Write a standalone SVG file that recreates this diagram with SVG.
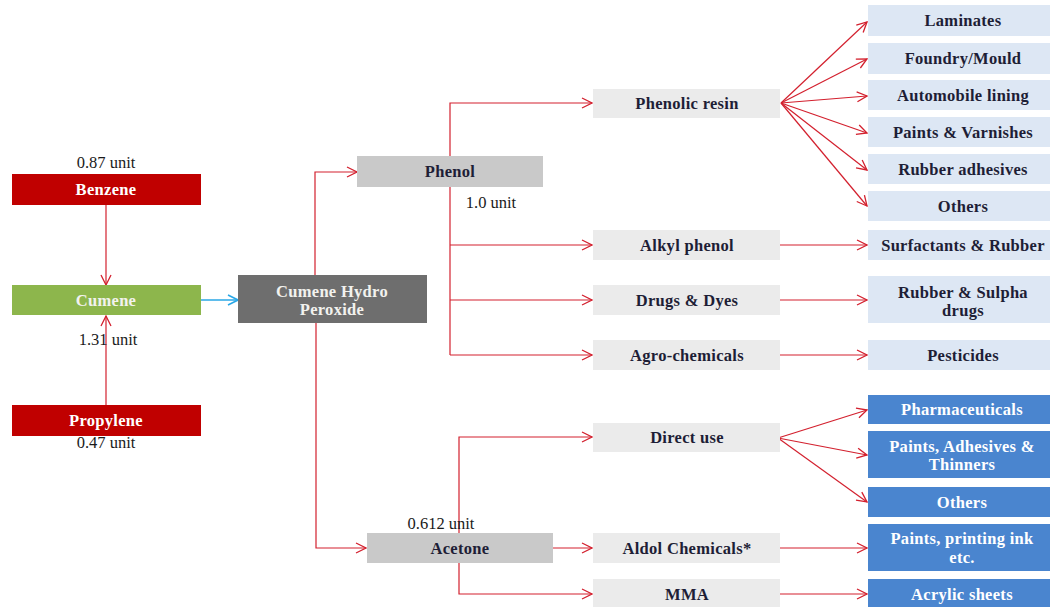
<svg xmlns="http://www.w3.org/2000/svg" width="1050" height="607" viewBox="0 0 1050 607">
  <defs>
    <marker id="arr" viewBox="0 0 12 12" markerWidth="12" markerHeight="12" markerUnits="userSpaceOnUse" refX="11" refY="6" orient="auto">
      <path d="M1,1 L11,6 L1,11" fill="none" stroke="#d3202e" stroke-width="1.3"/>
    </marker>
    <marker id="arrBlue" viewBox="0 0 12 12" markerWidth="12" markerHeight="12" markerUnits="userSpaceOnUse" refX="11" refY="6" orient="auto">
      <path d="M1,1 L11,6 L1,11" fill="none" stroke="#2aa7e6" stroke-width="1.6"/>
    </marker>
  </defs>
  <style>
    text { font-family: "Liberation Serif", "DejaVu Serif", serif; font-weight: bold; font-size: 16.5px; letter-spacing: 0.3px; text-anchor: middle; dominant-baseline: central; fill: #1e1e36; }
    .unit { font-weight: normal; font-size: 16.5px; letter-spacing: 0; fill: #1a1a1a; }
    .feed rect { fill: #c00000; }
    .light { fill: #f2f2ee; }
    .mid rect { fill: #ebebeb; }
    .use rect { fill: #dde7f4; }
    .blue rect { fill: #4a85cf; }
    .blue text, .feed text { fill: #ffffff; }
    .conn line, .conn polyline { stroke: #d3202e; stroke-width: 1.2; fill: none; marker-end: url(#arr); }
    .conn .plain { marker-end: none; }
  </style>

  <rect width="1050" height="607" fill="#ffffff"/>

  <!-- connectors -->
  <g class="conn">
    <line x1="106" y1="205" x2="106" y2="285"/>
    <line x1="106" y1="405" x2="106" y2="316"/>
    <line x1="201" y1="300" x2="238" y2="300" style="stroke:#2aa7e6;stroke-width:1.6;marker-end:url(#arrBlue)"/>
    <polyline points="315,275 315,172 357,172"/>
    <polyline points="316,323 316,548 366,548"/>
    <!-- phenol branches -->
    <polyline class="plain" points="450,187 450,355"/>
    <polyline points="450,156 450,103 592,103"/>
    <line x1="450" y1="245" x2="592" y2="245"/>
    <line x1="450" y1="300" x2="592" y2="300"/>
    <line x1="450" y1="355" x2="592" y2="355"/>
    <!-- phenolic resin fan -->
    <line x1="781" y1="103" x2="867" y2="22"/>
    <line x1="781" y1="103" x2="867" y2="59"/>
    <line x1="781" y1="103" x2="867" y2="96"/>
    <line x1="781" y1="103" x2="867" y2="133"/>
    <line x1="781" y1="103" x2="867" y2="170"/>
    <line x1="781" y1="103" x2="867" y2="206"/>
    <line x1="780" y1="245" x2="867" y2="245"/>
    <line x1="780" y1="300" x2="867" y2="300"/>
    <line x1="780" y1="355" x2="867" y2="355"/>
    <!-- acetone branches -->
    <polyline points="459,533 459,437 592,437"/>
    <polyline points="459,563 459,594 592,594"/>
    <line x1="553" y1="548" x2="592" y2="548"/>
    <!-- direct use fan -->
    <line x1="778" y1="438" x2="867" y2="410"/>
    <line x1="778" y1="438" x2="867" y2="455"/>
    <line x1="778" y1="438" x2="867" y2="502"/>
    <line x1="780" y1="548" x2="867" y2="548"/>
    <line x1="780" y1="594" x2="867" y2="594"/>
  </g>

  <!-- feedstocks -->
  <g id="benzene" class="feed">
    <rect x="12" y="174" width="189" height="31"/>
    <text x="106" y="189.5">Benzene</text>
  </g>
  <g id="cumene">
    <rect x="12" y="285" width="189" height="30" fill="#8db64c"/>
    <text class="light" x="106" y="300">Cumene</text>
  </g>
  <g id="propylene" class="feed">
    <rect x="12" y="405" width="189" height="31"/>
    <text x="106" y="420.5">Propylene</text>
  </g>
  <g id="chp">
    <rect x="238" y="275" width="189" height="48" fill="#6e6e6e"/>
    <text class="light" x="332" y="291">Cumene Hydro</text>
    <text class="light" x="332" y="309">Peroxide</text>
  </g>
  <g id="phenol">
    <rect x="357" y="156" width="186" height="31" fill="#c9c9c9"/>
    <text x="450" y="171.5">Phenol</text>
  </g>
  <g id="acetone">
    <rect x="367" y="533" width="186" height="30" fill="#c9c9c9"/>
    <text x="460" y="548">Acetone</text>
  </g>

  <!-- unit labels -->
  <g id="units">
    <text class="unit" x="106" y="162">0.87 unit</text>
    <text class="unit" x="108" y="339">1.31 unit</text>
    <text class="unit" x="106" y="442">0.47 unit</text>
    <text class="unit" x="491" y="202">1.0 unit</text>
    <text class="unit" x="441" y="523">0.612 unit</text>
  </g>

  <!-- derivatives -->
  <g id="phenolic-resin" class="mid">
    <rect x="593" y="89" width="187" height="29"/>
    <text x="687" y="103.5">Phenolic resin</text>
  </g>
  <g id="alkyl-phenol" class="mid">
    <rect x="593" y="230" width="187" height="30"/>
    <text x="687" y="245">Alkyl phenol</text>
  </g>
  <g id="drugs-dyes" class="mid">
    <rect x="593" y="285" width="187" height="30"/>
    <text x="687" y="300">Drugs &amp; Dyes</text>
  </g>
  <g id="agro-chemicals" class="mid">
    <rect x="593" y="340" width="187" height="30"/>
    <text x="687" y="355">Agro-chemicals</text>
  </g>
  <g id="direct-use" class="mid">
    <rect x="593" y="423" width="187" height="29"/>
    <text x="687" y="437.5">Direct use</text>
  </g>
  <g id="aldol" class="mid">
    <rect x="593" y="533" width="187" height="30"/>
    <text x="687" y="548">Aldol Chemicals*</text>
  </g>
  <g id="mma" class="mid">
    <rect x="593" y="579" width="187" height="28"/>
    <text x="687" y="594">MMA</text>
  </g>

  <!-- phenol end uses -->
  <g id="laminates" class="use">
    <rect x="868" y="5" width="182" height="31"/>
    <text x="963" y="20.5">Laminates</text>
  </g>
  <g id="foundry" class="use">
    <rect x="868" y="43" width="182" height="31"/>
    <text x="963" y="58.5">Foundry/Mould</text>
  </g>
  <g id="automobile" class="use">
    <rect x="868" y="80" width="182" height="30"/>
    <text x="963" y="95.5">Automobile lining</text>
  </g>
  <g id="paints-varnishes" class="use">
    <rect x="868" y="117" width="182" height="30"/>
    <text x="963" y="132">Paints &amp; Varnishes</text>
  </g>
  <g id="rubber-adhesives" class="use">
    <rect x="868" y="154" width="182" height="30"/>
    <text x="963" y="169">Rubber adhesives</text>
  </g>
  <g id="others-phenol" class="use">
    <rect x="868" y="191" width="182" height="30"/>
    <text x="963" y="206">Others</text>
  </g>
  <g id="surfactants" class="use">
    <rect x="868" y="230" width="182" height="30"/>
    <text x="963" y="245">Surfactants &amp; Rubber</text>
  </g>
  <g id="rubber-sulpha" class="use">
    <rect x="868" y="276" width="182" height="47"/>
    <text x="963" y="292">Rubber &amp; Sulpha</text>
    <text x="963" y="310">drugs</text>
  </g>
  <g id="pesticides" class="use">
    <rect x="868" y="340" width="182" height="30"/>
    <text x="963" y="355">Pesticides</text>
  </g>

  <!-- acetone end uses -->
  <g id="pharmaceuticals" class="blue">
    <rect x="868" y="395" width="182" height="29"/>
    <text x="962" y="409.5">Pharmaceuticals</text>
  </g>
  <g id="paints-adhesives" class="blue">
    <rect x="868" y="431" width="182" height="47"/>
    <text x="962" y="446">Paints, Adhesives &amp;</text>
    <text x="962" y="464">Thinners</text>
  </g>
  <g id="others-acetone" class="blue">
    <rect x="868" y="487" width="182" height="30"/>
    <text x="962" y="502">Others</text>
  </g>
  <g id="paints-ink" class="blue">
    <rect x="868" y="524" width="182" height="47"/>
    <text x="962" y="538">Paints, printing ink</text>
    <text x="962" y="557">etc.</text>
  </g>
  <g id="acrylic" class="blue">
    <rect x="868" y="579" width="182" height="28"/>
    <text x="962" y="594">Acrylic sheets</text>
  </g>
</svg>
